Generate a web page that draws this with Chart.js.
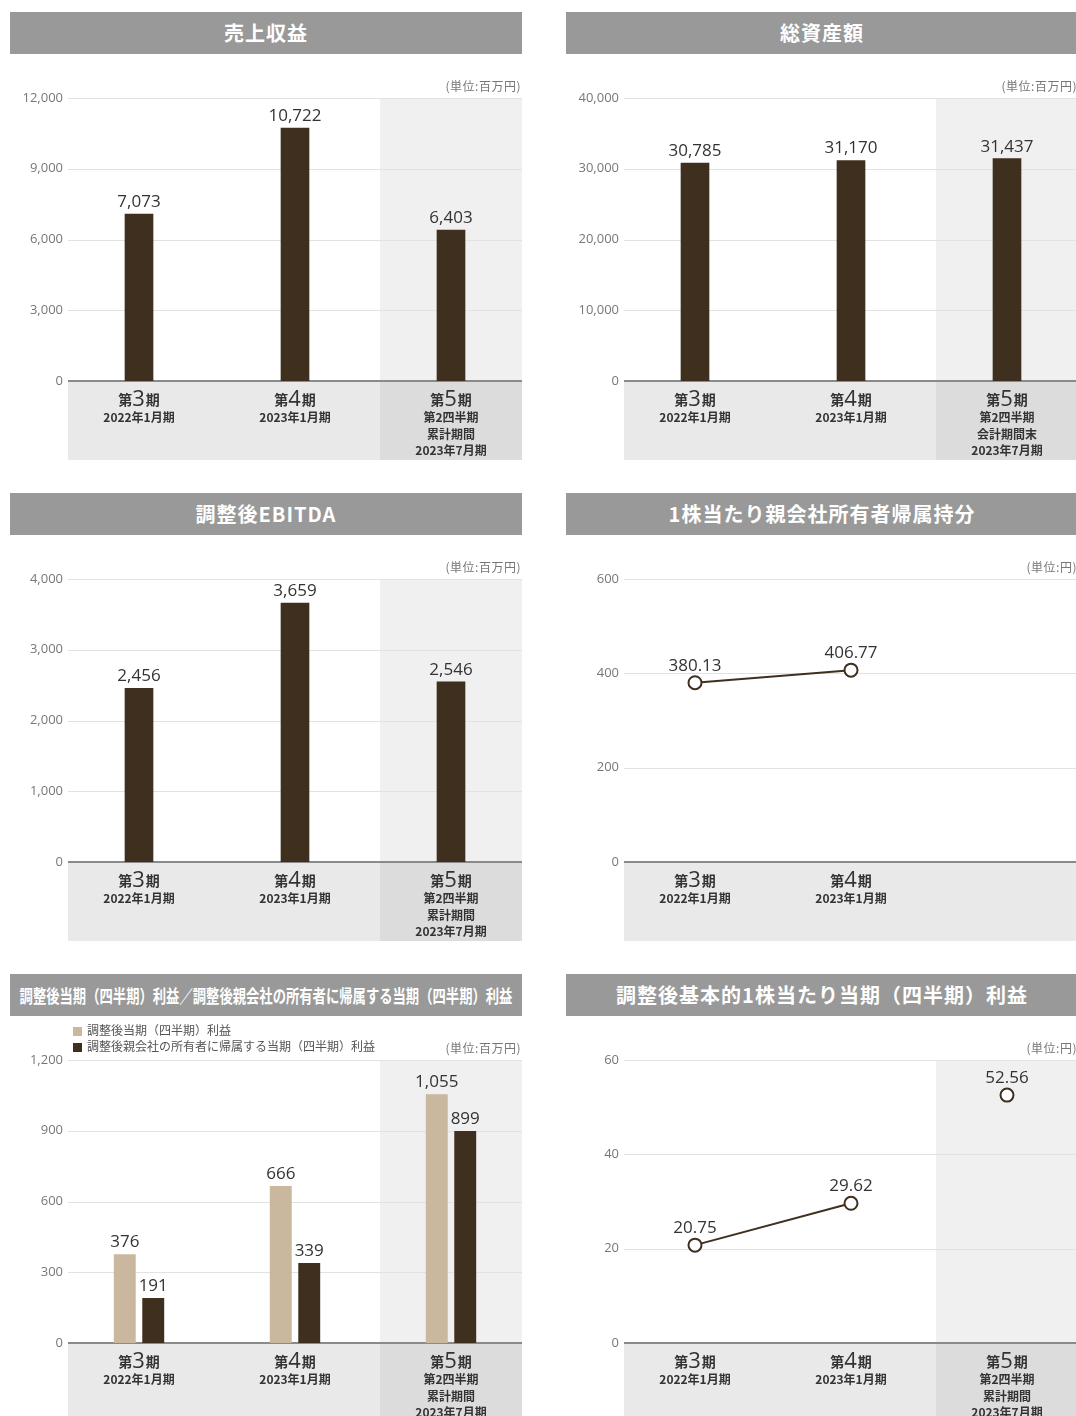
<!DOCTYPE html>
<html lang="ja">
<head>
    <meta charset="UTF-8">
    <title>業績ハイライト</title>
    <script src="https://cdn.jsdelivr.net/npm/chart.js"></script>
    <style>
        body {
            margin: 0;
            width: 1076px;
            height: 1416px;
            overflow: hidden;
            background: #fff;
            position: relative;
            font-family: 'Noto Sans CJK JP', sans-serif;
        }
        .panel { position: absolute; width: 512px; height: 448px; }
        .head {
            position: absolute; left: 0; top: 0; width: 512px; height: 42px;
            background: #999; color: #fff; font-size: 20px; font-weight: bold;
            line-height: 42px; text-align: center; letter-spacing: 1px; white-space: nowrap;
            overflow: hidden;
        }
        .head.narrow span {
            position: absolute; left: 50%; top: 0;
            font-size: 18px; letter-spacing: 0;
            transform: translateX(-50%) scaleX(0.74);
        }
        .panel canvas { position: absolute; left: 0; top: 44px; }
        .unit { position: absolute; right: 1px; top: 65px; font-size: 12px; letter-spacing: 0.5px; color: #777; white-space: nowrap; }
        .legend { position: absolute; left: 63px; top: 48px; font-size: 12px; color: #555; line-height: 16px; }
        .legend i { display: inline-block; width: 9px; height: 9px; margin-right: 5px; vertical-align: -1px; }
    </style>
</head>
<body>
    <div class="panel" style="left:10px; top:12px;">
        <div class="head">売上収益</div>
        <canvas id="c1" width="530" height="404"></canvas>
        <div class="unit">(単位:百万円)</div>
    </div>
    <div class="panel" style="left:566px; top:12px;">
        <div class="head">総資産額</div>
        <canvas id="c2" width="530" height="404"></canvas>
        <div class="unit">(単位:百万円)</div>
    </div>
    <div class="panel" style="left:10px; top:493px;">
        <div class="head">調整後EBITDA</div>
        <canvas id="c3" width="530" height="404"></canvas>
        <div class="unit">(単位:百万円)</div>
    </div>
    <div class="panel" style="left:566px; top:493px;">
        <div class="head">1株当たり親会社所有者帰属持分</div>
        <canvas id="c4" width="530" height="404"></canvas>
        <div class="unit">(単位:円)</div>
    </div>
    <div class="panel" style="left:10px; top:974px;">
        <div class="head narrow"><span>調整後当期（四半期）利益／調整後親会社の所有者に帰属する当期（四半期）利益</span></div>
        <canvas id="c5" width="530" height="404"></canvas>
        <div class="legend" id="legend5"></div>
        <div class="unit">(単位:百万円)</div>
    </div>
    <div class="panel" style="left:566px; top:974px;">
        <div class="head">調整後基本的1株当たり当期（四半期）利益</div>
        <canvas id="c6" width="530" height="404"></canvas>
        <div class="unit">(単位:円)</div>
    </div>

    <script>
        // data
        const periods = ['第3期', '第4期', '第5期'];
        const subCum = [['2022年1月期'], ['2023年1月期'], ['第2四半期', '累計期間', '2023年7月期']];
        const subEnd = [['2022年1月期'], ['2023年1月期'], ['第2四半期', '会計期間末', '2023年7月期']];

        const revenue = [7073, 10722, 6403];
        const revenueTicks = [0, 3000, 6000, 9000, 12000];

        const totalAssets = [30785, 31170, 31437];
        const assetsTicks = [0, 10000, 20000, 30000, 40000];

        const adjEbitda = [2456, 3659, 2546];
        const ebitdaTicks = [0, 1000, 2000, 3000, 4000];

        const equityPerShare = [380.13, 406.77, null];
        const equityTicks = [0, 200, 400, 600];

        const profitSeries = ['調整後当期（四半期）利益', '調整後親会社の所有者に帰属する当期（四半期）利益'];
        const adjProfit = [376, 666, 1055];
        const adjProfitOwners = [191, 339, 899];
        const profitTicks = [0, 300, 600, 900, 1200];

        const adjEpsLine = [20.75, 29.62, null];
        const adjEpsPoint = [null, null, 52.56];
        const epsTicks = [0, 20, 40, 60];

        const DARK = '#3f2f1e';
        const TAN = '#c9b89e';
        const JP = "'Noto Sans CJK JP', sans-serif";
        const NUM = "'Open Sans', sans-serif";

        const decor = {
            id: 'decor',
            afterLayout(chart) {
                // let the y labels run a little past the plot's left edge
                chart.scales.y.right += 10;
            },
            beforeDatasetsDraw(chart, args, opts) {
                const ctx = chart.ctx, area = chart.chartArea;
                const xs = chart.scales.x, ys = chart.scales.y;
                const inset = 7;
                const left = area.left + inset, right = area.right - inset;
                ctx.save();
                ctx.fillStyle = '#e9e9e9';
                ctx.fillRect(left, area.bottom, right - left, 79);
                if (opts.highlight) {
                    const hl = (xs.getPixelForValue(1) + xs.getPixelForValue(2)) / 2 + inset;
                    ctx.fillStyle = '#f0f0f0';
                    ctx.fillRect(hl, area.top, right - hl, area.bottom - area.top);
                    ctx.fillStyle = '#dcdcdc';
                    ctx.fillRect(hl, area.bottom, right - hl, 79);
                }
                ctx.strokeStyle = '#e2e2e2';
                ctx.lineWidth = 1;
                ys.ticks.forEach(t => {
                    if (t.value === 0) return;
                    const y = Math.round(ys.getPixelForValue(t.value)) + 0.5;
                    ctx.beginPath(); ctx.moveTo(left, y); ctx.lineTo(right, y); ctx.stroke();
                });
                ctx.strokeStyle = '#8a8a8a';
                ctx.lineWidth = 2;
                const y0 = ys.getPixelForValue(0);
                ctx.beginPath(); ctx.moveTo(left, y0); ctx.lineTo(right, y0); ctx.stroke();
                ctx.restore();
            },
            afterDraw(chart, args, opts) {
                const ctx = chart.ctx, area = chart.chartArea, xs = chart.scales.x;
                ctx.save();
                ctx.fillStyle = '#333';
                // value labels
                chart.data.datasets.forEach((ds, di) => {
                    const meta = chart.getDatasetMeta(di);
                    ctx.font = '17px ' + NUM;
                    ctx.textAlign = 'center';
                    ctx.textBaseline = 'alphabetic';
                    meta.data.forEach((el, i) => {
                        const v = ds.data[i];
                        if (v === null || v === undefined) return;
                        const txt = opts.decimals ? v.toFixed(opts.decimals) : v.toLocaleString('en-US');
                        ctx.fillText(txt, el.x, el.y - (meta.type === 'bar' ? 7 : 12));
                    });
                });
                // category labels
                opts.cats.forEach((name, i) => {
                    if (!name) return;
                    const cx = xs.getPixelForValue(i);
                    const m = name.match(/^(第)(\d+)(期)$/);
                    const fS = 'bold 14px ' + JP, fB = '22px ' + NUM;
                    ctx.font = fS;
                    const w1 = ctx.measureText(m[1]).width, w3 = ctx.measureText(m[3]).width;
                    ctx.font = fB;
                    const w2 = ctx.measureText(m[2]).width + 1;
                    let x = cx - (w1 + w2 + w3) / 2;
                    const base = area.bottom + 24;
                    ctx.textAlign = 'left';
                    ctx.font = fS; ctx.fillText(m[1], x, base); x += w1;
                    ctx.font = fB; ctx.fillText(m[2], x, base + 1); x += w2;
                    ctx.font = fS; ctx.fillText(m[3], x, base);
                    ctx.textAlign = 'center';
                    ctx.font = 'bold 12px ' + JP;
                    (opts.subs[i] || []).forEach((line, k) => {
                        ctx.fillText(line, cx, area.bottom + 41 + k * 16.5);
                    });
                });
                ctx.restore();
            }
        };

        function yScale(ticks) {
            return {
                min: ticks[0],
                max: ticks[ticks.length - 1],
                afterFit: s => { s.width = 51; },
                afterBuildTicks: s => { s.ticks = ticks.map(v => ({ value: v })); },
                grid: { display: false, drawTicks: false },
                border: { display: false },
                ticks: {
                    padding: 8,
                    color: '#777',
                    font: { family: NUM, size: 13 },
                    callback: v => v.toLocaleString('en-US')
                }
            };
        }

        function makeChart(id, type, datasets, ticks, decorOpts) {
            return new Chart(document.getElementById(id), {
                type: type,
                data: { labels: periods, datasets: datasets },
                options: {
                    responsive: false,
                    animation: false,
                    devicePixelRatio: 1,
                    layout: { padding: { top: 42, bottom: 79, left: 0, right: 11 } },
                    plugins: {
                        legend: { display: false },
                        tooltip: { enabled: false },
                        decor: decorOpts
                    },
                    scales: {
                        x: { display: false, offset: true },
                        y: yScale(ticks)
                    }
                },
                plugins: [decor]
            });
        }

        function barSet(data, color) {
            return { data: data, backgroundColor: color, barThickness: 28 };
        }

        function lineSet(data, showLine) {
            return {
                data: data,
                showLine: showLine,
                borderColor: DARK,
                borderWidth: 2,
                pointRadius: 6.5,
                pointBorderWidth: 2,
                pointBackgroundColor: '#fff',
                pointBorderColor: DARK
            };
        }

        makeChart('c1', 'bar', [barSet(revenue, DARK)], revenueTicks,
            { highlight: true, cats: periods, subs: subCum });
        makeChart('c2', 'bar', [barSet(totalAssets, DARK)], assetsTicks,
            { highlight: true, cats: periods, subs: subEnd });
        makeChart('c3', 'bar', [barSet(adjEbitda, DARK)], ebitdaTicks,
            { highlight: true, cats: periods, subs: subCum });
        makeChart('c4', 'line', [lineSet(equityPerShare, true)], equityTicks,
            { highlight: false, decimals: 2, cats: [periods[0], periods[1], ''], subs: subCum.slice(0, 2) });
        makeChart('c5', 'bar', [
                { data: adjProfit, backgroundColor: TAN, categoryPercentage: 0.365, barPercentage: 0.77 },
                { data: adjProfitOwners, backgroundColor: DARK, categoryPercentage: 0.365, barPercentage: 0.77 }
            ], profitTicks,
            { highlight: true, cats: periods, subs: subCum });
        makeChart('c6', 'line', [lineSet(adjEpsLine, true), lineSet(adjEpsPoint, false)], epsTicks,
            { highlight: true, decimals: 2, cats: periods, subs: subCum });

        // legend for the grouped bar chart
        const legend = document.getElementById('legend5');
        [TAN, DARK].forEach((c, i) => {
            const row = document.createElement('div');
            row.innerHTML = '<i style="background:' + c + '"></i>' + profitSeries[i];
            legend.appendChild(row);
        });
    </script>
</body>
</html>
